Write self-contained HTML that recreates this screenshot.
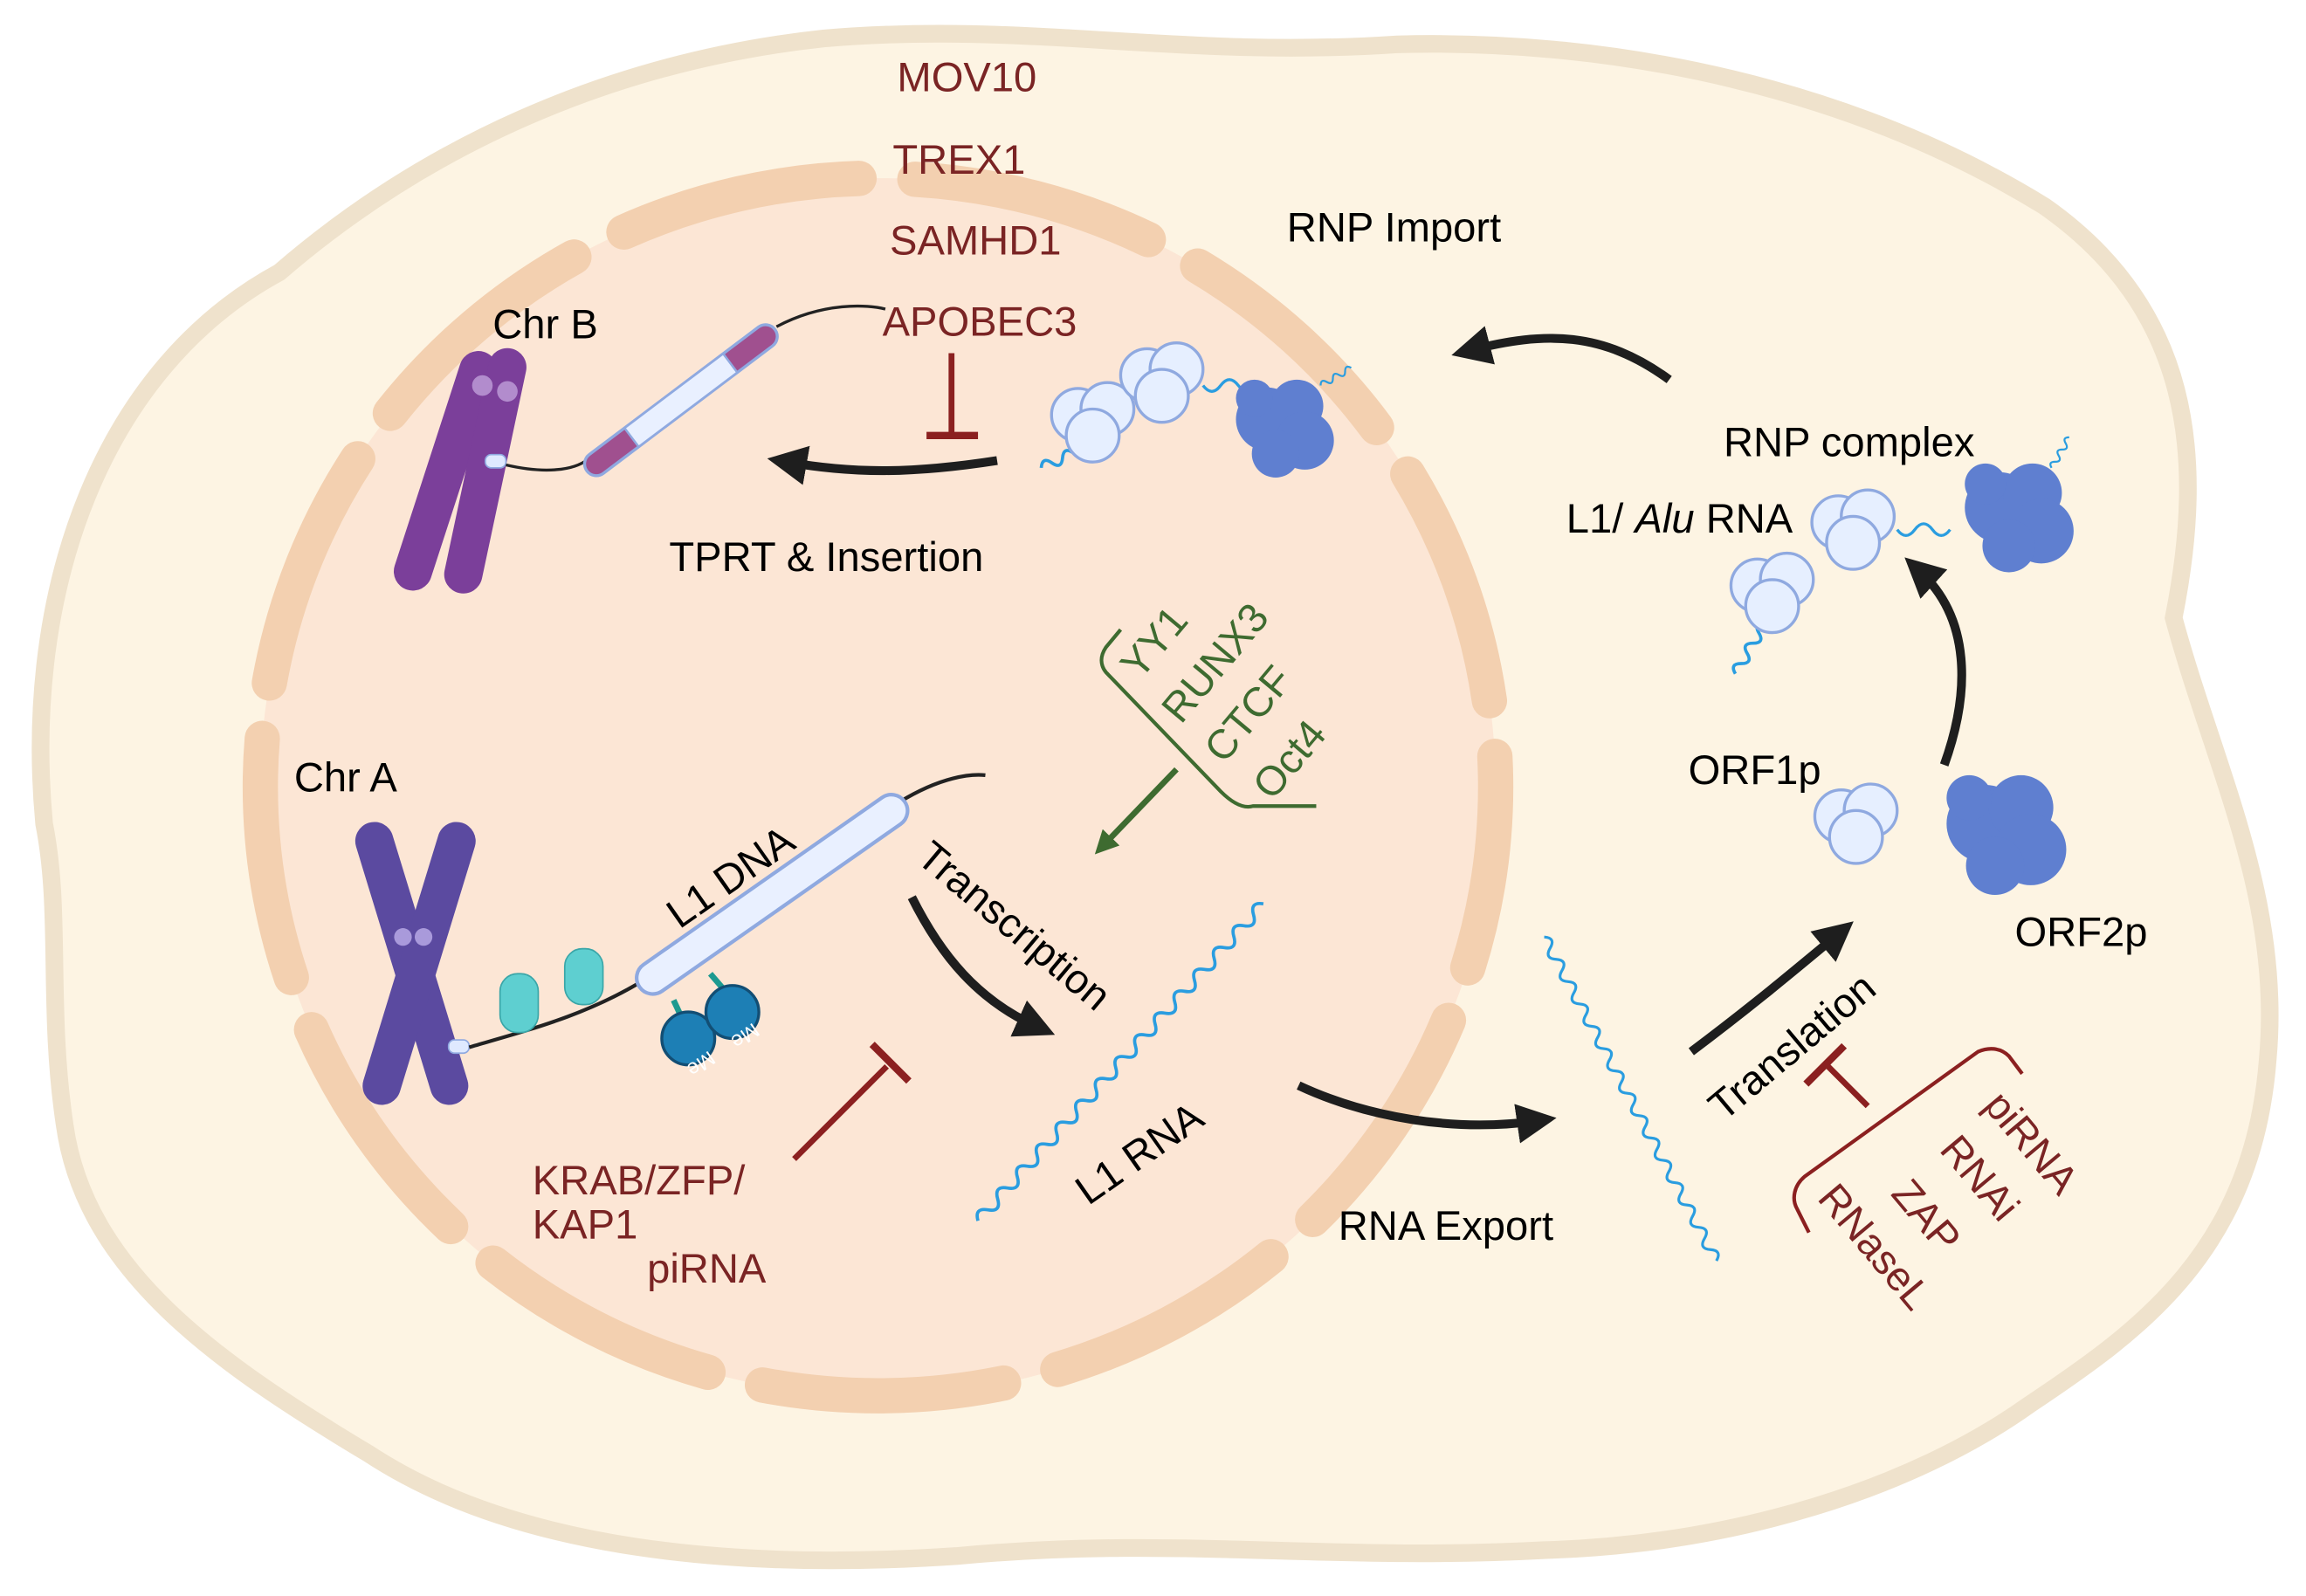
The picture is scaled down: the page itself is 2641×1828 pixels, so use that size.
<!DOCTYPE html>
<html><head><meta charset="utf-8"><style>
html,body{margin:0;padding:0;background:#fff}
svg{display:block}
text{font-family:"Liberation Sans",sans-serif;font-size:28px}
.r{fill:#7a2424}.g{fill:#3e6b30}
</style></head><body>
<svg width="2641" height="1828" viewBox="0 0 1568 1085" xmlns="http://www.w3.org/2000/svg">
<defs>
<path id="wave" d="M0 0 q5 -8 10 0 t10 0 t10 0 t10 0 t10 0 t10 0 t10 0 t10 0 t10 0 t10 0 t10 0 t10 0 t10 0 t10 0 t10 0 t10 0 t10 0 t10 0 t10 0 t10 0 t10 0 t10 0 t10 0 t10 0 t10 0 t10 0 t10 0 t10 0 t10 0" fill="none" stroke="#2a9de0" stroke-width="2.2"/>
<path id="waveS" d="M0 0 q4 -7 8 0 t8 0 t8 0 t8 0 t8 0" fill="none" stroke="#2a9de0" stroke-width="2.2"/>
<g id="orf1"><circle cx="0" cy="0" r="18" fill="#e6efff" stroke="#8fa9e0" stroke-width="2"/><circle cx="20" cy="-4" r="18" fill="#e6efff" stroke="#8fa9e0" stroke-width="2"/><circle cx="10" cy="14" r="18" fill="#e6efff" stroke="#8fa9e0" stroke-width="2"/></g>
<g id="orf2" fill="#5f7fd0"><circle cx="0" cy="0" r="24"/><circle cx="22" cy="-10" r="20"/><circle cx="28" cy="16" r="22"/><circle cx="6" cy="26" r="18"/><circle cx="-10" cy="-16" r="14"/></g>
<marker id="ah" viewBox="0 0 10 10" refX="5" refY="5" markerWidth="4.5" markerHeight="4.5" orient="auto"><path d="M0 0L10 5L0 10z" fill="#1e1e1e"/></marker>
<marker id="ahg" viewBox="0 0 10 10" refX="5" refY="5" markerWidth="4" markerHeight="4" orient="auto"><path d="M0 0L10 5L0 10z" fill="#3e6b30"/></marker>
</defs>
<rect width="1568" height="1085" fill="#fff"/>
<path d="M30 560 C15 400 70 250 190 185 C300 90 430 40 560 26 C700 14 800 40 950 30 C1100 26 1260 60 1390 140 C1490 210 1500 310 1478 420 C1505 520 1552 610 1542 720 C1532 850 1455 905 1380 955 C1300 1012 1180 1050 1050 1054 C900 1062 800 1044 650 1058 C500 1068 350 1054 250 988 C150 928 58 865 44 765 C32 685 42 620 30 560Z" fill="#fdf4e3" stroke="#efe2cc" stroke-width="12"/>
<ellipse cx="597" cy="535" rx="420" ry="414" fill="#fce6d5"/>
<ellipse cx="597" cy="535" rx="420" ry="414" fill="none" stroke="#f3d0b0" stroke-width="24" stroke-linecap="round" stroke-dasharray="165 38" stroke-dashoffset="40"/>
<text x="610" y="62" class="r">MOV10</text>
<text x="607" y="118" class="r">TREX1</text>
<text x="605" y="173" class="r">SAMHD1</text>
<text x="600" y="228" class="r">APOBEC3</text>
<text x="875" y="164">RNP Import</text>
<text x="335" y="230">Chr B</text>
<text x="455" y="388">TPRT &amp; Insertion</text>
<text x="200" y="538">Chr A</text>
<g fill="#7b3f9a">
<rect x="-13" y="-85" width="26" height="170" rx="13" transform="translate(303 320) rotate(18)"/>
<rect x="-13" y="-85" width="26" height="170" rx="13" transform="translate(330 320) rotate(12)"/>
</g>
<circle cx="328" cy="262" r="7" fill="#b28ccd"/><circle cx="345" cy="266" r="7" fill="#b28ccd"/>
<rect x="330" y="309" width="14" height="9" rx="4" fill="#dfe9ff" stroke="#8fa9e0"/>
<path d="M344 316 C370 322 390 320 400 312" fill="none" stroke="#222" stroke-width="2"/>
<path d="M528 222 C560 205 590 207 602 210" fill="none" stroke="#222" stroke-width="2"/>
<g transform="translate(463 272) rotate(-37)"><rect x="-80" y="-8" width="160" height="16" rx="8" fill="#a0508f" stroke="#8fa9e0" stroke-width="2"/><rect x="-42" y="-8" width="84" height="16" fill="#e9f0ff" stroke="#8fa9e0" stroke-width="1.5"/></g>
<line x1="647" y1="240" x2="647" y2="295" stroke="#8b2020" stroke-width="4"/><line x1="630" y1="296" x2="665" y2="296" stroke="#8b2020" stroke-width="5"/>
<path d="M678 313 C620 322 580 322 535 314" fill="none" stroke="#1e1e1e" stroke-width="6" marker-end="url(#ah)"/>
<use href="#waveS" transform="translate(708 318) rotate(-25)"/>
<use href="#orf1" transform="translate(733 282)"/><use href="#orf1" transform="translate(780 255)"/>
<path d="M818 262 q6 8 12 0 t12 0 t12 0" fill="none" stroke="#2a9de0" stroke-width="2"/>
<use href="#orf2" transform="translate(862 285) scale(0.9)"/>
<use href="#waveS" transform="translate(898 262) rotate(-30) scale(0.6)"/>
<g fill="#5b4aa0">
<rect x="-13" y="-100" width="26" height="200" rx="13" transform="translate(280 655) rotate(-17)"/>
<rect x="-13" y="-100" width="26" height="200" rx="13" transform="translate(285 655) rotate(17)"/>
</g>
<circle cx="274" cy="637" r="6" fill="#a99adb"/><circle cx="288" cy="637" r="6" fill="#a99adb"/>
<rect x="305" y="707" width="14" height="9" rx="4" fill="#dfe9ff" stroke="#8fa9e0"/>
<path d="M319 712 C360 700 400 690 440 665" fill="none" stroke="#222" stroke-width="2.5"/>
<path d="M612 545 C640 528 660 526 670 527" fill="none" stroke="#222" stroke-width="2.5"/>
<g fill="#5ecfd0" stroke="#3aa6a8"><rect x="340" y="662" width="26" height="40" rx="12"/><rect x="384" y="645" width="26" height="38" rx="12"/></g>
<g transform="translate(525 608) rotate(-35)"><rect x="-110" y="-11" width="220" height="22" rx="11" fill="#e9f0ff" stroke="#8fa9e0" stroke-width="2.5"/></g>
<text transform="translate(462 632) rotate(-35)">L1 DNA</text>
<line x1="458" y1="680" x2="465" y2="695" stroke="#1d9a90" stroke-width="4"/><line x1="483" y1="662" x2="495" y2="676" stroke="#1d9a90" stroke-width="4"/>
<circle cx="468" cy="706" r="18" fill="#1d7fb5" stroke="#124e74" stroke-width="2"/><circle cx="498" cy="688" r="18" fill="#1d7fb5" stroke="#124e74" stroke-width="2"/>
<text transform="translate(482 714) rotate(145)" style="font-size:14px;fill:#fff">Me</text><text transform="translate(512 695) rotate(145)" style="font-size:14px;fill:#fff">Me</text>
<text transform="translate(622 585) rotate(40)">Transcription</text>
<path d="M620 610 C640 650 665 680 705 698" fill="none" stroke="#1e1e1e" stroke-width="6" marker-end="url(#ah)"/>
<path d="M762 428 L752 440 C748 446 748 452 752 457 L830 538 C837 545 845 550 852 548 L895 548" fill="none" stroke="#3e6b30" stroke-width="2.5"/>
<g class="g"><text transform="translate(775 463) rotate(-50)">YY1</text><text transform="translate(803 493) rotate(-50)">RUNX3</text><text transform="translate(832 520) rotate(-50)">CTCF</text><text transform="translate(865 545) rotate(-50)">Oct4</text></g>
<line x1="800" y1="523" x2="750" y2="575" stroke="#3e6b30" stroke-width="4" marker-end="url(#ahg)"/>
<use href="#wave" transform="translate(665 830) rotate(-48)"/>
<text transform="translate(740 820) rotate(-35)">L1 RNA</text>
<line x1="540" y1="788" x2="603" y2="725" stroke="#8b2020" stroke-width="4"/><line x1="593" y1="710" x2="618" y2="735" stroke="#8b2020" stroke-width="5"/>
<text x="362" y="812" class="r">KRAB/ZFP/</text><text x="362" y="842" class="r">KAP1</text><text x="440" y="872" class="r">piRNA</text>
<path d="M883 738 C930 760 990 770 1045 762" fill="none" stroke="#1e1e1e" stroke-width="6" marker-end="url(#ah)"/>
<text x="910" y="843">RNA Export</text>
<use href="#wave" transform="translate(1050 637) rotate(62) scale(0.86)"/>
<path d="M1150 715 C1190 685 1220 660 1250 635" fill="none" stroke="#1e1e1e" stroke-width="6" marker-end="url(#ah)"/>
<text transform="translate(1172 763) rotate(-40)">Translation</text>
<line x1="1270" y1="752" x2="1243" y2="725" stroke="#8b2020" stroke-width="4"/><line x1="1228" y1="737" x2="1254" y2="711" stroke="#8b2020" stroke-width="5"/>
<path d="M1375 730 L1366 718 C1360 712 1352 712 1345 715 L1227 800 C1220 806 1218 815 1222 822 L1230 838" fill="none" stroke="#8b2020" stroke-width="2.5"/>
<g class="r"><text transform="translate(1348 752) rotate(50)">piRNA</text><text transform="translate(1318 782) rotate(50)">RNAi</text><text transform="translate(1285 812) rotate(50)">ZAP</text><text transform="translate(1235 815) rotate(50)">RNaseL</text></g>
<text x="1148" y="533">ORF1p</text><text x="1370" y="643">ORF2p</text>
<use href="#orf1" transform="translate(1252 555)"/>
<use href="#orf2" transform="translate(1350 560) scale(1.1)"/>
<path d="M1322 520 C1340 470 1340 420 1305 388" fill="none" stroke="#1e1e1e" stroke-width="6" marker-end="url(#ah)"/>
<text x="1172" y="310">RNP complex</text>
<text x="1065" y="362">L1/ <tspan font-style="italic">Alu</tspan> RNA</text>
<use href="#waveS" transform="translate(1180 458) rotate(-60)"/>
<use href="#orf1" transform="translate(1195 398)"/><use href="#orf1" transform="translate(1250 355)"/>
<path d="M1290 360 q6 8 12 0 t12 0 t12 0" fill="none" stroke="#2a9de0" stroke-width="2"/>
<use href="#orf2" transform="translate(1360 345)"/>
<use href="#waveS" transform="translate(1395 318) rotate(-60) scale(0.6)"/>
<path d="M1135 258 C1090 225 1050 225 1000 238" fill="none" stroke="#1e1e1e" stroke-width="6" marker-end="url(#ah)"/>
</svg>
</body></html>
